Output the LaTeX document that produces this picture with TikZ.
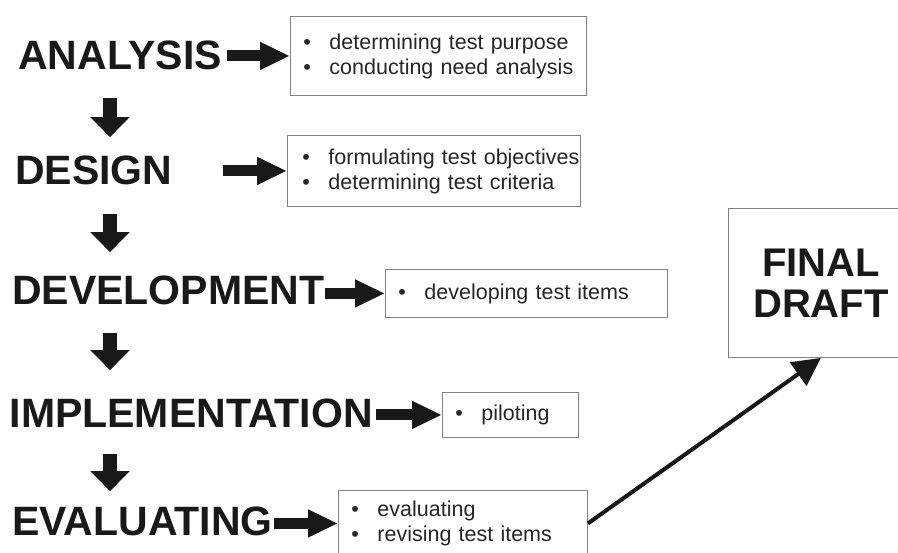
\documentclass[tikz,border=0pt]{standalone}
\usepackage{fontspec}
\setmainfont{Liberation Sans}
\usetikzlibrary{arrows.meta,calc}
\newcommand\bul[1]{\mbox{\textbullet\hspace{18.5pt}#1}}

\begin{document}
\begin{tikzpicture}
   [x=1pt,y=-1pt,
    stage/.style={anchor=base west,inner sep=0pt,text=black!90,
      font=\fontsize{41}{44}\selectfont\bfseries},
    task/.style={draw=black!50,line width=0.9pt,anchor=north west,align=left,
      inner xsep=13pt,inner ysep=0pt,font=\fontsize{21.5}{25}\selectfont,text=black!85},
    rarrow/.style={line width=11pt,-{Triangle[length=30pt,width=26pt]},black!90},
    darrow/.style={line width=14pt,-{Triangle[length=20pt,width=38pt]},black!90}]
\clip (0,0) rectangle (898,553);

\node [stage] (ana) at (18,70) {ANALYSIS};
\node [stage] (des) at (15,185) {DESIGN};
\node [stage] (dev) at (12,305) {DEVELOPMENT};
\node [stage] (imp) at (9.5,428) {IMPLEMENTATION};
\node [stage] (eva) at (12,536) {EVALUATING};
\coordinate (col) at (110,0);

\node [task,text width=270pt,minimum height=79pt] (ana1) at (290,16)
  {\bul{determining test purpose}\\ \bul{conducting need analysis}};
\node [task,text width=263pt,minimum height=71pt,inner xsep=15pt] (des1) at (287,135)
  {\bul{formulating test objectives}\\ \bul{determining test criteria}};
\node [task,text width=256pt,minimum height=48pt] (dev1) at (385,269)
  {\bul{developing test items}};
\node [task,text width=110pt,minimum height=45pt] (imp1) at (442,392)
  {\bul{piloting}};
\node [task,text width=223pt,minimum height=66pt] (eva1) at (338,490)
  {\bul{evaluating}\\ \bul{revising test items}};
\node [draw=black!50,line width=0.9pt,anchor=north west,minimum width=185pt,
  minimum height=149pt,align=center,text=black!90,
  font=\fontsize{40}{41}\selectfont\bfseries] (fin) at (728,208) {FINAL\\DRAFT};

\draw [rarrow,shorten <=5pt] (ana.east |- ana1.west) -- (ana1.west);
\draw [rarrow,shorten <=50pt] (des.east |- des1.west) -- (des1.west);
\draw [rarrow,shorten <=1pt] (dev.east |- dev1.west) -- (dev1.west);
\draw [rarrow,shorten <=3pt] (imp.east |- imp1.west) -- (imp1.west);
\draw [rarrow,shorten <=1pt] (eva.east |- eva1.west) -- (eva1.west);

\draw [darrow,shorten <=27pt,shorten >=19pt] (ana.south -| col) -- (des.north -| col);
\draw [darrow,shorten <=28pt,shorten >=24pt] (des.south -| col) -- (dev.north -| col);
\draw [darrow,shorten <=27pt,shorten >=29pt] (dev.south -| col) -- (imp.north -| col);
\draw [darrow,shorten <=25pt,shorten >=16pt] (imp.south -| col) -- (eva.north -| col);

\draw [line width=4pt,-{Triangle[length=28pt,width=28pt]},black!90] (eva1.east) -- (fin.south);
\end{tikzpicture}
\end{document}
